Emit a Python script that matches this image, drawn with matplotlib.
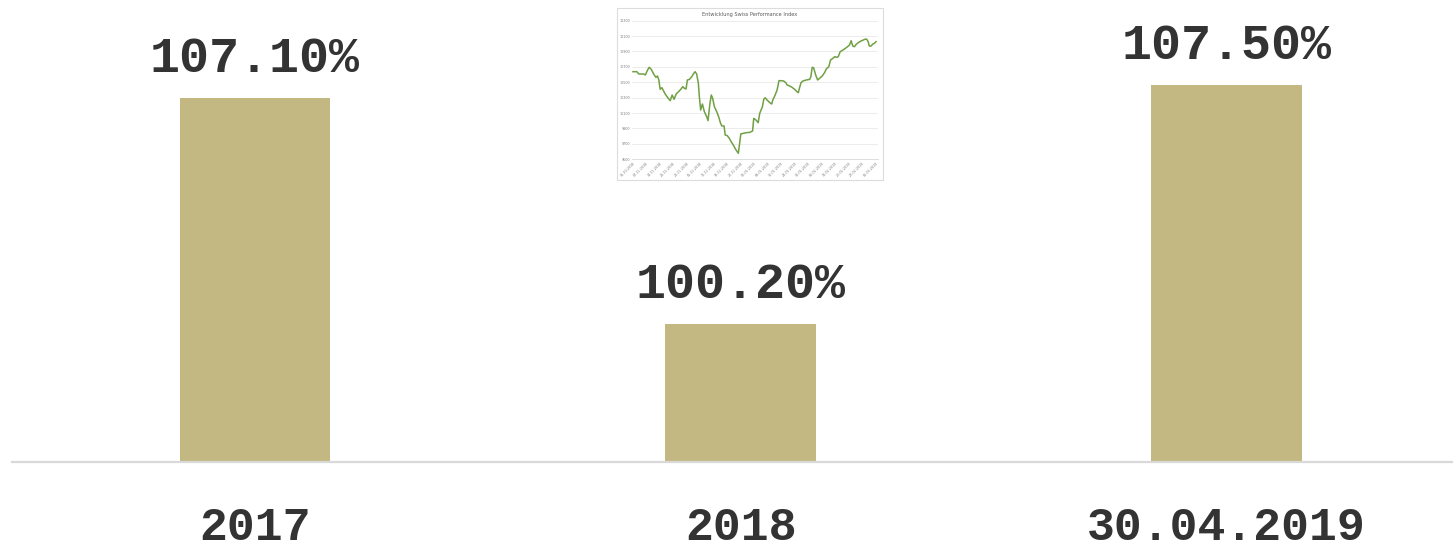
import matplotlib.pyplot as plt
from matplotlib.patches import Rectangle

# Hauptdiagramm: Performance pro Periode
kategorien = ["2017", "2018", "30.04.2019"]
werte = [107.10, 100.20, 107.50]
beschriftung = ["107.10%", "100.20%", "107.50%"]

# Kleines Bild: Entwicklung Swiss Performance Index (Tage seit 31.10.2018)
spi_tage = [0, 2, 3, 5.5, 6.4, 7.6, 8.4, 9.5, 10.7, 11.9, 12.7, 13.4, 14.1, 15.0, 15.8,
            16.7, 17.9, 19.3, 20.3, 21.3, 22.4, 23.6, 24.8, 25.8, 26.7, 27.5, 28.2, 29.3,
            30.5, 31.3, 32.2, 33.0, 33.9, 34.4, 35.1, 36.0, 37.0, 38.2, 38.9, 39.9, 40.6,
            41.3, 42.2, 43.4, 44.4, 45.4, 46.1, 47.2, 47.8, 48.9, 49.9, 50.9, 52.0, 53.2,
            54.6, 55.4, 55.9, 57.1, 58.9, 60.6, 62.0, 62.6, 63.7, 64.9, 65.7, 67.1, 67.8,
            68.5, 69.5, 70.9, 71.9, 72.6, 73.7, 74.7, 75.7, 76.9, 78.1, 79.2, 79.9, 81.2,
            82.4, 83.8, 85.0, 85.7, 86.4, 87.1, 88.1, 89.8, 91.6, 92.2, 92.9, 93.6, 94.7,
            95.7, 96.7, 98.1, 99.3, 100.2, 101.5, 102.4, 103.6, 104.6, 105.7, 106.4, 107.4,
            108.8, 110.1, 111.2, 112.2, 113.1, 113.9, 114.8, 115.7, 117.0, 118.2, 119.4,
            120.5, 121.2, 121.9, 122.5, 123.4, 124.3, 125.1, 126.0]
spi_werte = [10638, 10638, 10608, 10608, 10595, 10660, 10694, 10668, 10608, 10564, 10582,
             10530, 10409, 10430, 10391, 10348, 10305, 10262, 10335, 10279, 10348, 10378,
             10409, 10443, 10422, 10413, 10530, 10538, 10573, 10608, 10638, 10608, 10487,
             10313, 10140, 10218, 10119, 10054, 10002, 10227, 10335, 10292, 10184, 10119,
             10054, 9967, 9933, 9933, 9816, 9807, 9773, 9729, 9686, 9630, 9578, 9729, 9829,
             9837, 9846, 9850, 9868, 10032, 10011, 9976, 10097, 10184, 10279, 10300, 10270,
             10236, 10218, 10279, 10335, 10400, 10521, 10521, 10517, 10495, 10465, 10452,
             10435, 10409, 10378, 10365, 10435, 10495, 10517, 10530, 10538, 10573, 10694,
             10690, 10595, 10530, 10551, 10582, 10625, 10673, 10703, 10789, 10811, 10833,
             10824, 10833, 10898, 10919, 10941, 10962, 10984, 11040, 10971, 10962, 10993,
             11019, 11036, 11049, 11062, 11058, 11027, 10971, 10971, 10997, 11006, 11027]
spi_ticks = [0, 7, 14, 21, 28, 35, 42, 49, 56, 63, 70, 77, 84, 91, 98, 105, 112, 119, 126]
spi_ticklabels = ["31.10.2018", "07.11.2018", "14.11.2018", "21.11.2018", "28.11.2018",
                  "05.12.2018", "12.12.2018", "19.12.2018", "26.12.2018", "02.01.2019",
                  "09.01.2019", "16.01.2019", "23.01.2019", "30.01.2019", "06.02.2019",
                  "13.02.2019", "20.02.2019", "27.02.2019", "06.03.2019"]
spi_yticks = [9500, 9700, 9900, 10100, 10300, 10500, 10700, 10900, 11100, 11300]

textfarbe = "#333333"
fig = plt.figure(figsize=(14.53, 5.47), dpi=100)
ax = fig.add_axes([12 / 1453, 85 / 547, 1441 / 1453, 458.5 / 547])
ax.set_zorder(0)

x = range(len(kategorien))
ax.bar(x, [w - 96 for w in werte], bottom=96, width=0.31, color="#c3b882")
for i, w in enumerate(werte):
    ax.text(i, w + 0.5, beschriftung[i], ha="center", va="bottom", fontsize=36,
            fontweight="bold", family="Liberation Mono", color=textfarbe)

ax.set_xlim(-0.5, 2.466)
ax.set_ylim(96, 110)
ax.set_xticks(list(x))
ax.set_xticklabels(kategorien, fontsize=33.5, fontweight="bold", family="Liberation Mono",
                   color=textfarbe)
ax.tick_params(axis="x", length=0, pad=31.5)
ax.set_yticks([])
for s in ["top", "right", "left"]:
    ax.spines[s].set_visible(False)
ax.spines["bottom"].set_color("#d9d9d9")
ax.spines["bottom"].set_linewidth(1.6)

# Rahmen des eingefügten Bildes
rahmen = Rectangle((617 / 1453, 367 / 547), 266 / 1453, 172 / 547, transform=fig.transFigure,
                   facecolor="white", edgecolor="#dcdcdc", linewidth=0.8, zorder=1)
fig.patches.append(rahmen)
fig.text(750 / 1453, 1 - 14.5 / 547, "Entwicklung Swiss Performance Index", ha="center",
         va="center", fontsize=3.6, color="#595959", zorder=3)

ins = fig.add_axes([632 / 1453, 387.7 / 547, 246 / 1453, 138.6 / 547])
ins.set_zorder(2)
ins.patch.set_alpha(0)
ins.plot(spi_tage, spi_werte, color="#70a044", linewidth=1.1)
ins.set_xlim(-0.5, 127)
ins.set_ylim(9500, 11300)
ins.set_yticks(spi_yticks)
ins.set_yticklabels([str(v) for v in spi_yticks], fontsize=2.4, color="#808080")
ins.set_xticks(spi_ticks)
ins.set_xticklabels(spi_ticklabels, fontsize=2.4, color="#808080", rotation=45, ha="right",
                    rotation_mode="anchor")
ins.tick_params(length=0, pad=1.5)
ins.grid(axis="y", color="#e4e4e4", linewidth=0.5)
for s in ["top", "right", "left"]:
    ins.spines[s].set_visible(False)
ins.spines["bottom"].set_color("#d0d0d0")
ins.spines["bottom"].set_linewidth(0.5)

fig.savefig("out.png", dpi=100)
